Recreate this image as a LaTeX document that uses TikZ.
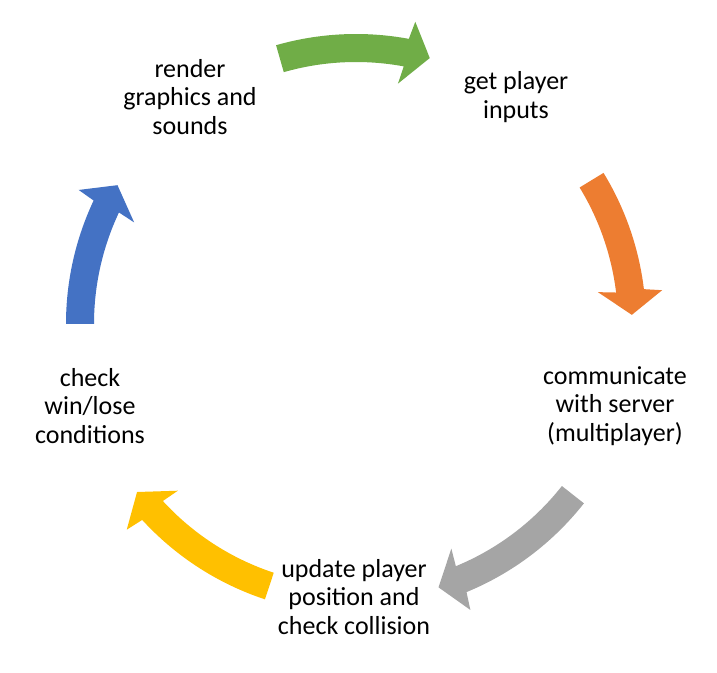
\documentclass[tikz,border=0pt]{standalone}
\usepackage{fontspec}
\setmainfont{Carlito}
\definecolor{cgreen}{HTML}{70AD47}
\definecolor{corange}{HTML}{ED7D31}
\definecolor{cgray}{HTML}{A5A5A5}
\definecolor{cyellow}{HTML}{FFC000}
\definecolor{cblue}{HTML}{4472C4}
\newcommand{\cycarrow}[3]{%
  \fill[#1] (#2:290) arc[start angle=#2, end angle=#3+5, radius=290]
    -- (#3+4.4:308) -- (#3:276) -- (#3+5.6:244) -- (#3+5:262)
    arc[start angle=#3+5, end angle=#2, radius=262] -- cycle;}
\begin{document}
\begin{tikzpicture}[x=1pt,y=1pt,
  lbl/.style={align=center,inner sep=0pt,text=black,font=\fontsize{26}{28.5}\selectfont}]
\useasboundingbox[fill=white] (0,0) rectangle (717,672);
\begin{scope}[shift={(356,348)}]
  \cycarrow{cgreen}{106}{74.5}
  \cycarrow{corange}{31.4}{1.9}
  \cycarrow{cgray}{-38.2}{-72.6}
  \cycarrow{cyellow}{-108.3}{-142.5}
  \cycarrow{cblue}{180}{149.8}
\end{scope}
\node[lbl] (inputs) at (516,575) {get player\\inputs};
\node[lbl] (server) at (615,266) {communicate\\with server\\(multiplayer)};
\node[lbl] (update) at (354,75) {update player\\position and\\check collision};
\node[lbl] (check) at (90,266) {check\\win/lose\\conditions};
\node[lbl] (render) at (190,575) {render\\graphics and\\sounds};
\end{tikzpicture}
\end{document}
